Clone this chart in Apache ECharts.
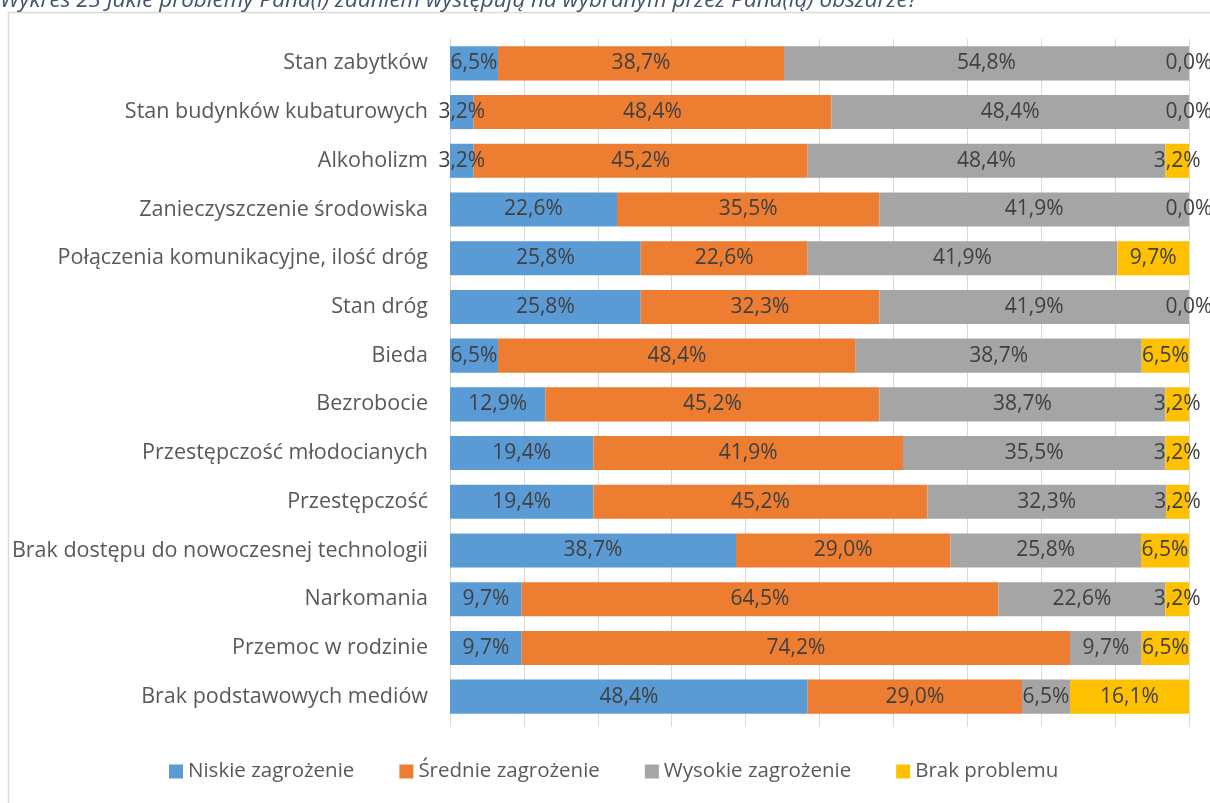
<!DOCTYPE html>
<html>
<head>
<meta charset="utf-8">
<script src="https://cdn.jsdelivr.net/npm/echarts@6/dist/echarts.min.js"></script>
<style>
  html, body { margin: 0; padding: 0; background: #ffffff; }
  #chart { width: 1210px; height: 803px; }
</style>
</head>
<body>
<div id="chart"></div>
<script>
// Problem categories, listed top to bottom
const categories = [
  'Stan zabytków',
  'Stan budynków kubaturowych',
  'Alkoholizm',
  'Zanieczyszczenie środowiska',
  'Połączenia komunikacyjne, ilość dróg',
  'Stan dróg',
  'Bieda',
  'Bezrobocie',
  'Przestępczość młodocianych',
  'Przestępczość',
  'Brak dostępu do nowoczesnej technologii',
  'Narkomania',
  'Przemoc w rodzinie',
  'Brak podstawowych mediów'
];

// Shares of answers (%) per category, same order as above
const niskie  = [6.5, 3.2, 3.2, 22.6, 25.8, 25.8, 6.5, 12.9, 19.4, 19.4, 38.7, 9.7, 9.7, 48.4];
const srednie = [38.7, 48.4, 45.2, 35.5, 22.6, 32.3, 48.4, 45.2, 41.9, 45.2, 29.0, 64.5, 74.2, 29.0];
const wysokie = [54.8, 48.4, 48.4, 41.9, 41.9, 41.9, 38.7, 38.7, 35.5, 32.3, 25.8, 22.6, 9.7, 6.5];
const brak    = [0.0, 0.0, 3.2, 0.0, 9.7, 0.0, 6.5, 3.2, 3.2, 3.2, 6.5, 3.2, 6.5, 16.1];

const seriesNames = ['Niskie zagrożenie', 'Średnie zagrożenie', 'Wysokie zagrożenie', 'Brak problemu'];
const seriesData = [niskie, srednie, wysokie, brak];
const colors = ['#5b9bd5', '#ed7d31', '#a5a5a5', '#ffc000'];

const titleText = 'Wykres 23 Jakie problemy Pana(i) zdaniem występują na wybranym przez Pana(ią) obszarze?';

const FONT = 'Open Sans';
const chart = echarts.init(document.getElementById('chart'), null, { renderer: 'canvas' });

const option = {
  backgroundColor: '#ffffff',
  animation: false,
  color: colors,
  textStyle: { fontFamily: FONT },
  graphic: [
    {
      type: 'rect',
      shape: { x: 8.5, y: 12.5, width: 1240, height: 840 },
      style: { fill: 'none', stroke: '#d9d9d9', lineWidth: 1.5 },
      silent: true
    },
    {
      type: 'text',
      x: 0, y: 12,
      style: {
        text: titleText,
        fontFamily: FONT,
        fontStyle: 'italic',
        fontSize: 22.5,
        fill: '#44546a',
        verticalAlign: 'bottom'
      },
      silent: true
    }
  ],
  legend: {
    bottom: 16,
    left: 164,
    itemWidth: 14,
    itemHeight: 14,
    itemGap: 45,
    icon: 'rect',
    textStyle: { fontSize: 20.5, color: '#595959', fontFamily: FONT },
    data: seriesNames
  },
  grid: { left: 450, right: 21, top: 39, bottom: 82, containLabel: false },
  xAxis: {
    type: 'value',
    min: 0,
    max: 100,
    interval: 10,
    axisLabel: { show: false },
    axisLine: { show: false },
    axisTick: { show: true, length: 6, lineStyle: { color: '#d9d9d9' } },
    splitLine: { show: true, lineStyle: { color: '#d9d9d9', width: 1 } }
  },
  yAxis: {
    type: 'category',
    inverse: true,
    data: categories,
    axisLine: { show: true, lineStyle: { color: '#d9d9d9' } },
    axisTick: { show: false },
    axisLabel: { fontSize: 21.5, color: '#595959', margin: 22, fontFamily: FONT }
  },
  series: seriesNames.map((name, i) => ({
    name: name,
    type: 'bar',
    stack: 'total',
    barCategoryGap: '30%',
    data: seriesData[i],
    itemStyle: { color: colors[i] },
    label: {
      show: true,
      position: 'inside',
      fontSize: 21,
      color: '#404040',
      fontFamily: FONT,
      formatter: p => p.value.toFixed(1).replace('.', ',') + '%'
    }
  }))
};

chart.setOption(option);
</script>
</body>
</html>
